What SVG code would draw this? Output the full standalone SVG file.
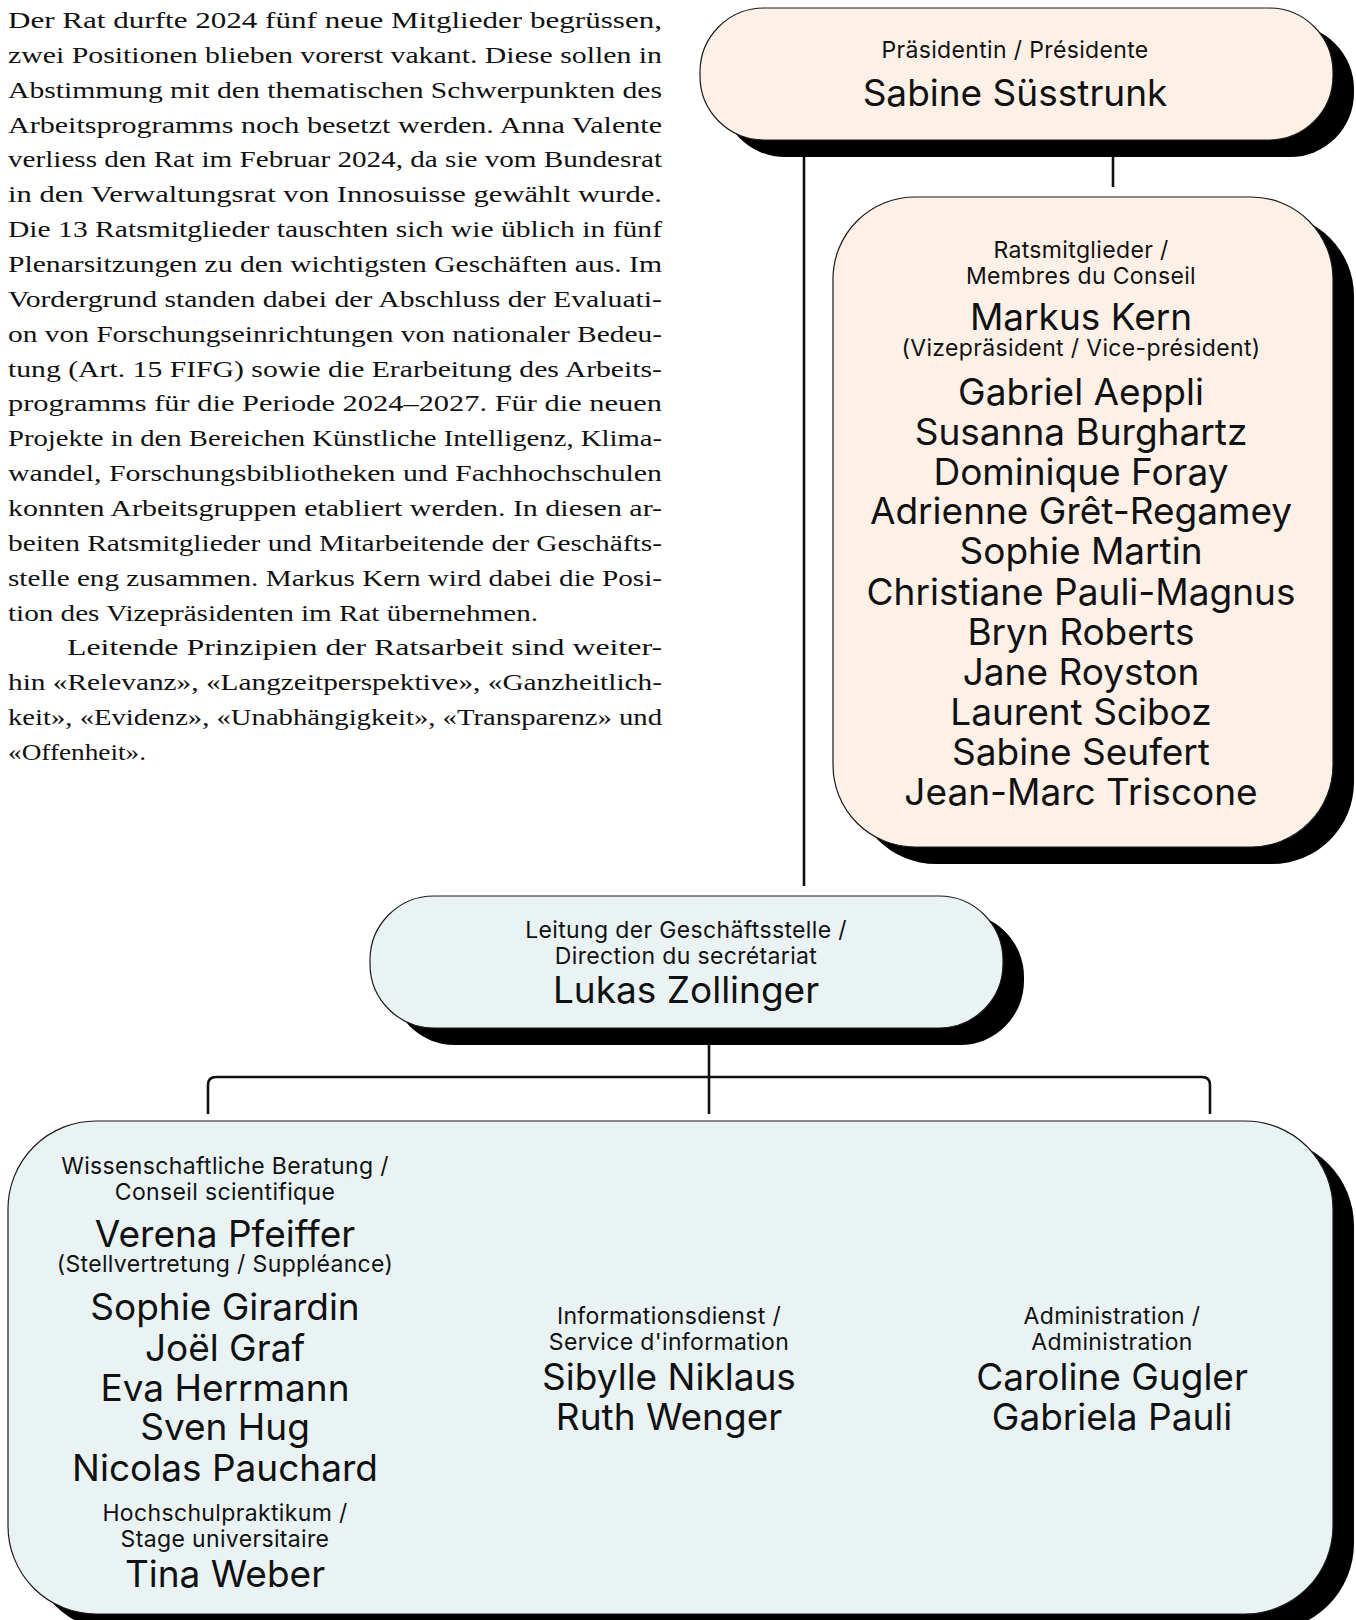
<svg xmlns="http://www.w3.org/2000/svg" width="1356" height="1620" viewBox="0 0 1356 1620">
<style>
  .peach { fill: #fcf0e7; stroke: #1a1a1a; stroke-width: 1.2; }
  .blue { fill: #eaf3f4; stroke: #1a1a1a; stroke-width: 1.2; }
  .shadow { fill: #000; }
  .lbl { font-family: Inter, "Liberation Sans", sans-serif; font-size: 23px; letter-spacing: 0.35px; fill: #111; text-anchor: middle; }
  .nm { font-family: Inter, "Liberation Sans", sans-serif; font-size: 37px; fill: #111; text-anchor: middle; }
  .body { font-family: "Liberation Serif", serif; font-size: 24px; fill: #111; }
  .conn { fill: none; stroke: #111; stroke-width: 2.6; }
</style>

<g id="intro-text">
  <text class="body">
    <tspan x="8" y="28" textLength="654" lengthAdjust="spacingAndGlyphs">Der Rat durfte 2024 fünf neue Mitglieder begrüssen,</tspan>
    <tspan x="8" y="62.9" textLength="654" lengthAdjust="spacingAndGlyphs">zwei Positionen blieben vorerst vakant. Diese sollen in</tspan>
    <tspan x="8" y="97.7" textLength="654" lengthAdjust="spacingAndGlyphs">Abstimmung mit den thematischen Schwerpunkten des</tspan>
    <tspan x="8" y="132.6" textLength="654" lengthAdjust="spacingAndGlyphs">Arbeitsprogramms noch besetzt werden. Anna Valente</tspan>
    <tspan x="8" y="167.4" textLength="654" lengthAdjust="spacingAndGlyphs">verliess den Rat im Februar 2024, da sie vom Bundesrat</tspan>
    <tspan x="8" y="202.3" textLength="654" lengthAdjust="spacingAndGlyphs">in den Verwaltungsrat von Innosuisse gewählt wurde.</tspan>
    <tspan x="8" y="237.1" textLength="654" lengthAdjust="spacingAndGlyphs">Die 13 Ratsmitglieder tauschten sich wie üblich in fünf</tspan>
    <tspan x="8" y="272" textLength="654" lengthAdjust="spacingAndGlyphs">Plenarsitzungen zu den wichtigsten Geschäften aus. Im</tspan>
    <tspan x="8" y="306.8" textLength="654" lengthAdjust="spacingAndGlyphs">Vordergrund standen dabei der Abschluss der Evaluati-</tspan>
    <tspan x="8" y="341.7" textLength="654" lengthAdjust="spacingAndGlyphs">on von Forschungseinrichtungen von nationaler Bedeu-</tspan>
    <tspan x="8" y="376.5" textLength="654" lengthAdjust="spacingAndGlyphs">tung (Art. 15 FIFG) sowie die Erarbeitung des Arbeits-</tspan>
    <tspan x="8" y="411.4" textLength="654" lengthAdjust="spacingAndGlyphs">programms für die Periode 2024–2027. Für die neuen</tspan>
    <tspan x="8" y="446.2" textLength="654" lengthAdjust="spacingAndGlyphs">Projekte in den Bereichen Künstliche Intelligenz, Klima-</tspan>
    <tspan x="8" y="481.1" textLength="654" lengthAdjust="spacingAndGlyphs">wandel, Forschungsbibliotheken und Fachhochschulen</tspan>
    <tspan x="8" y="515.9" textLength="654" lengthAdjust="spacingAndGlyphs">konnten Arbeitsgruppen etabliert werden. In diesen ar-</tspan>
    <tspan x="8" y="550.8" textLength="654" lengthAdjust="spacingAndGlyphs">beiten Ratsmitglieder und Mitarbeitende der Geschäfts-</tspan>
    <tspan x="8" y="585.6" textLength="654" lengthAdjust="spacingAndGlyphs">stelle eng zusammen. Markus Kern wird dabei die Posi-</tspan>
    <tspan x="8" y="620.5" textLength="530" lengthAdjust="spacingAndGlyphs">tion des Vizepräsidenten im Rat übernehmen.</tspan>
    <tspan x="67" y="655.3" textLength="595" lengthAdjust="spacingAndGlyphs">Leitende Prinzipien der Ratsarbeit sind weiter-</tspan>
    <tspan x="8" y="690.2" textLength="654" lengthAdjust="spacingAndGlyphs">hin «Relevanz», «Langzeitperspektive», «Ganzheitlich-</tspan>
    <tspan x="8" y="725" textLength="654" lengthAdjust="spacingAndGlyphs">keit», «Evidenz», «Unabhängigkeit», «Transparenz» und</tspan>
    <tspan x="8" y="759.9" textLength="138" lengthAdjust="spacingAndGlyphs">«Offenheit».</tspan>
  </text>
</g>

<g id="connectors">
  <path class="conn" d="M804 157 V886"/>
  <path class="conn" d="M1113 157 V187"/>
  <path class="conn" d="M709 1042 V1114"/>
  <path class="conn" d="M208 1114 V1085 Q208 1077 216 1077 H1202 Q1210 1077 1210 1085 V1114"/>
</g>

<g id="node-praesidentin">
  <rect class="shadow" x="721" y="25" width="633" height="132" rx="64"/>
  <rect class="peach" x="700" y="8" width="633" height="132" rx="64"/>
  <text class="lbl" x="1015" y="58">Präsidentin / Présidente</text>
  <text class="nm" x="1015" y="106">Sabine Süsstrunk</text>
</g>

<g id="node-ratsmitglieder">
  <rect class="shadow" x="854" y="214" width="500" height="650" rx="82"/>
  <rect class="peach" x="833" y="197" width="500" height="650" rx="82"/>
  <text class="lbl" x="1081" y="257.5">Ratsmitglieder /</text>
  <text class="lbl" x="1081" y="283.5">Membres du Conseil</text>
  <text class="nm" x="1081" y="330">Markus Kern</text>
  <text class="lbl" x="1081" y="356">(Vizepräsident / Vice-président)</text>
  <text class="nm" x="1081" y="405">Gabriel Aeppli</text>
  <text class="nm" x="1081" y="444.5">Susanna Burghartz</text>
  <text class="nm" x="1081" y="484.5">Dominique Foray</text>
  <text class="nm" x="1081" y="524">Adrienne Grêt-Regamey</text>
  <text class="nm" x="1081" y="564">Sophie Martin</text>
  <text class="nm" x="1081" y="604.5">Christiane Pauli-Magnus</text>
  <text class="nm" x="1081" y="644.5">Bryn Roberts</text>
  <text class="nm" x="1081" y="685">Jane Royston</text>
  <text class="nm" x="1081" y="725">Laurent Sciboz</text>
  <text class="nm" x="1081" y="764.5">Sabine Seufert</text>
  <text class="nm" x="1081" y="805">Jean-Marc Triscone</text>
</g>

<g id="node-leitung">
  <rect class="shadow" x="391" y="913" width="633" height="132" rx="64"/>
  <rect class="blue" x="370" y="896" width="633" height="132" rx="64"/>
  <text class="lbl" x="686" y="937.5">Leitung der Geschäftsstelle /</text>
  <text class="lbl" x="686" y="963.5">Direction du secrétariat</text>
  <text class="nm" x="686" y="1003">Lukas Zollinger</text>
</g>

<g id="node-geschaeftsstelle">
  <rect class="shadow" x="29" y="1138" width="1325" height="493" rx="88"/>
  <rect class="blue" x="8" y="1121" width="1325" height="493" rx="88"/>
  <g id="wissenschaftliche-beratung">
    <text class="lbl" x="225" y="1174">Wissenschaftliche Beratung /</text>
    <text class="lbl" x="225" y="1199.5">Conseil scientifique</text>
    <text class="nm" x="225" y="1247">Verena Pfeiffer</text>
    <text class="lbl" x="225" y="1272">(Stellvertretung / Suppléance)</text>
    <text class="nm" x="225" y="1320">Sophie Girardin</text>
    <text class="nm" x="225" y="1361">Joël Graf</text>
    <text class="nm" x="225" y="1401">Eva Herrmann</text>
    <text class="nm" x="225" y="1440">Sven Hug</text>
    <text class="nm" x="225" y="1481">Nicolas Pauchard</text>
    <text class="lbl" x="225" y="1521">Hochschulpraktikum /</text>
    <text class="lbl" x="225" y="1547">Stage universitaire</text>
    <text class="nm" x="225" y="1587">Tina Weber</text>
  </g>
  <g id="informationsdienst">
    <text class="lbl" x="669" y="1323.5">Informationsdienst /</text>
    <text class="lbl" x="669" y="1349.5">Service d'information</text>
    <text class="nm" x="669" y="1390">Sibylle Niklaus</text>
    <text class="nm" x="669" y="1430">Ruth Wenger</text>
  </g>
  <g id="administration">
    <text class="lbl" x="1112" y="1323.5">Administration /</text>
    <text class="lbl" x="1112" y="1349.5">Administration</text>
    <text class="nm" x="1112" y="1390">Caroline Gugler</text>
    <text class="nm" x="1112" y="1430">Gabriela Pauli</text>
  </g>
</g>
</svg>
